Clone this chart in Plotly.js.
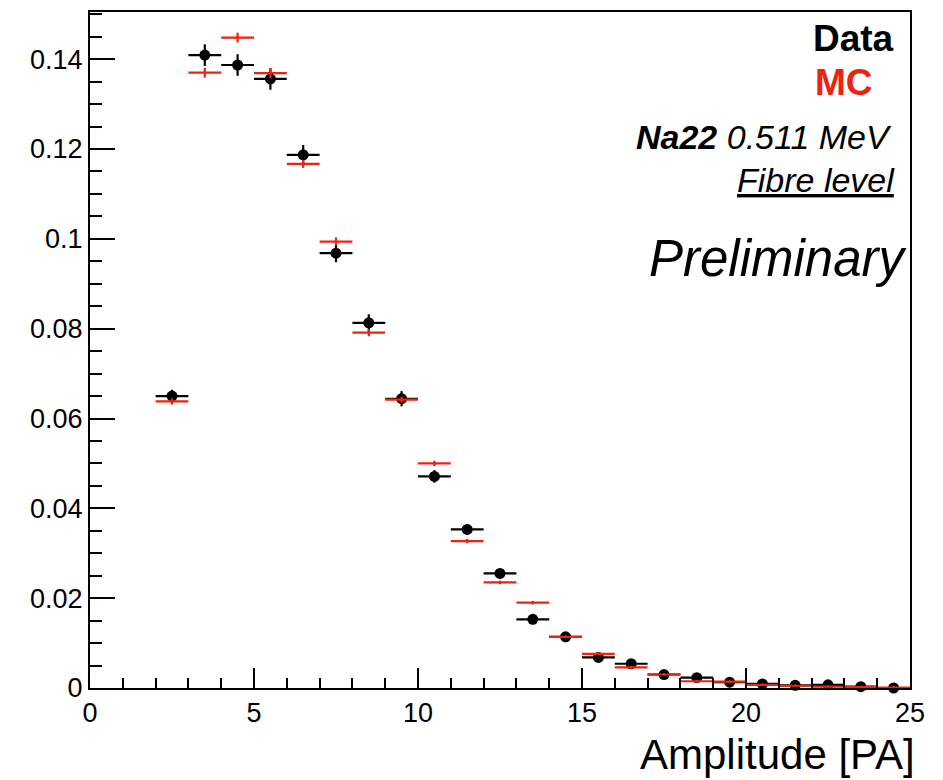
<!DOCTYPE html>
<html>
<head>
<meta charset="utf-8">
<script src="https://cdn.plot.ly/plotly-3.0.1.min.js"></script>
<style>html,body{margin:0;padding:0;background:#fff;}#chart{width:943px;height:780px;}</style>
</head>
<body>
<div id="chart"></div>
<script>
// Bin centres (Amplitude [PA])
const binCenters = [2.5, 3.5, 4.5, 5.5, 6.5, 7.5, 8.5, 9.5, 10.5, 11.5, 12.5, 13.5, 14.5, 15.5, 16.5, 17.5, 18.5, 19.5, 20.5, 21.5, 22.5, 23.5, 24.5];
const binHalfWidth = 0.5;

// Data (black points)
const dataValues = [0.0650, 0.1409, 0.1387, 0.1356, 0.1187, 0.0968, 0.0813, 0.0644, 0.0471, 0.0353, 0.0255, 0.0153, 0.0114, 0.0068, 0.0054, 0.0030, 0.0023, 0.0013, 0.0009, 0.0006, 0.0007, 0.0003, 0.0000];
const dataErrors = [0.0014, 0.0024, 0.0024, 0.0024, 0.0022, 0.0020, 0.0019, 0.0017, 0.0014, 0.0012, 0.0011, 0.0009, 0.0008, 0.0006, 0.0005, 0.0004, 0.0004, 0.0003, 0.0002, 0.0002, 0.0002, 0.0001, 0.0001];

// MC (red points)
const mcValues = [0.0638, 0.1370, 0.1448, 0.1369, 0.1167, 0.0994, 0.0791, 0.0642, 0.0500, 0.0327, 0.0235, 0.0190, 0.0114, 0.0076, 0.0046, 0.0030, 0.0015, 0.0014, 0.0007, 0.0005, 0.0003, 0.0002, 0.0001];
const mcErrors = [0.0007, 0.0011, 0.0011, 0.0011, 0.0009, 0.0009, 0.0008, 0.0007, 0.0006, 0.0005, 0.0004, 0.0004, 0.0003, 0.0002, 0.0002, 0.0002, 0.0001, 0.0001, 0.0001, 0.0001, 0.0001, 0.0001, 0.0001];

const FONT = '"Liberation Sans", Arial, Helvetica, sans-serif';
const RED = '#ee2211';

const traces = [
  {
    type: 'scatter', mode: 'markers', name: 'Data',
    x: binCenters, y: dataValues,
    marker: {color: '#000', size: 11, symbol: 'circle'},
    error_y: {type: 'data', array: dataErrors, visible: true, color: '#000', thickness: 2.2, width: 0},
    error_x: {type: 'constant', value: binHalfWidth, visible: true, color: '#000', thickness: 2.2, width: 0},
    cliponaxis: false
  },
  {
    type: 'scatter', mode: 'markers', name: 'MC',
    x: binCenters, y: mcValues,
    marker: {color: RED, size: 3, symbol: 'circle'},
    error_y: {type: 'data', array: mcErrors, visible: true, color: RED, thickness: 2.2, width: 0},
    error_x: {type: 'constant', value: binHalfWidth, visible: true, color: RED, thickness: 2.2, width: 0},
    cliponaxis: false
  }
];

const layout = {
  width: 943, height: 780,
  margin: {l: 90, r: 33, t: 12, b: 92},
  paper_bgcolor: '#fff', plot_bgcolor: '#fff',
  showlegend: false,
  font: {family: FONT, color: '#000', size: 27},
  xaxis: {
    range: [0, 25], tick0: 0, dtick: 5,
    ticks: 'inside', ticklen: 20, tickwidth: 2, tickcolor: '#000',
    minor: {dtick: 1, ticks: 'inside', ticklen: 10, tickwidth: 2, tickcolor: '#000', showgrid: false},
    showline: true, linecolor: '#000', linewidth: 2, mirror: true,
    showgrid: false, zeroline: false,
    tickfont: {family: FONT, size: 27, color: '#000'}
  },
  yaxis: {
    range: [0, 0.1505], tick0: 0, dtick: 0.02,
    ticks: 'inside', ticklen: 25, tickwidth: 2, tickcolor: '#000',
    minor: {dtick: 0.005, ticks: 'inside', ticklen: 12, tickwidth: 2, tickcolor: '#000', showgrid: false},
    showline: true, linecolor: '#000', linewidth: 2, mirror: true,
    showgrid: false, zeroline: false,
    tickfont: {family: FONT, size: 27, color: '#000'}
  },
  annotations: [
    {xref: 'paper', yref: 'paper', x: 0.983, y: 0.9615, xanchor: 'right', yanchor: 'middle', showarrow: false,
     text: '<b>Data</b>', font: {family: FONT, size: 37, color: '#000'}},
    {xref: 'paper', yref: 'paper', x: 0.957, y: 0.895, xanchor: 'right', yanchor: 'middle', showarrow: false,
     text: '<b>MC</b>', font: {family: FONT, size: 37, color: RED}},
    {xref: 'paper', yref: 'paper', x: 0.981, y: 0.815, xanchor: 'right', yanchor: 'middle', showarrow: false,
     text: '<b><i>Na22</i></b><i> 0.511 MeV</i>', font: {family: FONT, size: 34, color: '#000'}},
    {xref: 'paper', yref: 'paper', x: 0.984, y: 0.751, xanchor: 'right', yanchor: 'middle', showarrow: false,
     text: '<i><u>Fibre level</u></i>', font: {family: FONT, size: 34, color: '#000'}},
    {xref: 'paper', yref: 'paper', x: 1.0, y: 0.636, xanchor: 'right', yanchor: 'middle', showarrow: false,
     text: '<i>Preliminary</i>', font: {family: FONT, size: 51, color: '#000'}},
    {xref: 'paper', yref: 'paper', x: 1.008, y: -0.098, xanchor: 'right', yanchor: 'middle', showarrow: false,
     text: 'Amplitude [PA]', font: {family: FONT, size: 42, color: '#000'}}
  ]
};

Plotly.newPlot('chart', traces, layout, {displayModeBar: false, staticPlot: true});
</script>
</body>
</html>
